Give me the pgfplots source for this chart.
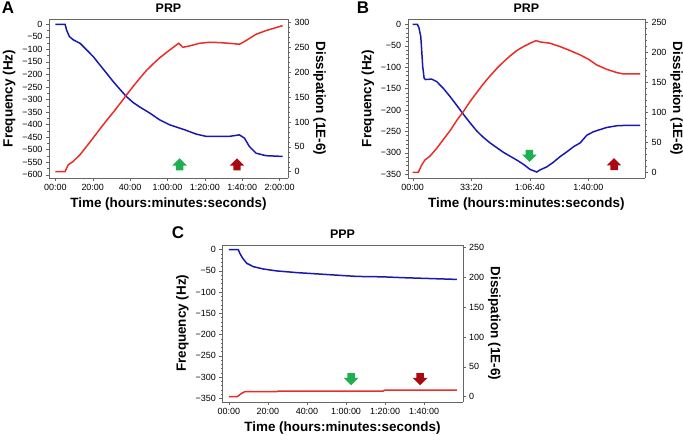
\documentclass[border=0pt]{standalone}
\usepackage{fontspec}
\setmainfont{Liberation Sans}
\usepackage{pgfplots}
\pgfplotsset{compat=1.18}
\usetikzlibrary{shapes.arrows}
\definecolor{fblue}{RGB}{25,25,175}
\definecolor{dred}{RGB}{235,45,40}
\definecolor{agreen}{RGB}{30,175,80}
\definecolor{ared}{RGB}{170,10,15}
\newcommand{\tk}{\fontsize{9}{10}\selectfont}
\newcommand{\lb}{\bfseries\fontsize{13.5}{15}\selectfont}
\pgfplotsset{
  qcm/.style={scale only axis, tick align=outside, major tick length=3bp, minor tick length=1.5bp,
    axis line style={black!60}, every tick/.style={black!60, line width=0.4pt},
    ticklabel style={font=\tk}, label style={font=\lb},
    title style={font=\bfseries\fontsize{12.5}{13}\selectfont, yshift=-3bp},
    /pgf/number format/assume math mode=true, xtick pos=left, minor x tick num=3},
  freq/.style={fblue, line width=1.5bp},
  diss/.style={dred, line width=1.5bp},
  rgt/.style={axis y line*=right, axis x line=none, ylabel style={rotate=180}, ylabel shift=-3bp,
    minor y tick num=4},
}
\tikzset{arr/.style={single arrow, draw=none, inner xsep=0pt, inner ysep=3.5bp, minimum height=12bp,
  single arrow head extend=3.5bp, single arrow head indent=0pt}}
\begin{document}
\begin{tikzpicture}
% ---------------- A ----------------
\begin{axis}[qcm, at={(49bp,257bp)}, anchor=south west, width=239bp, height=159bp,
  xmin=-3.4, xmax=124.5, ymin=-613, ymax=21, axis y line*=left,
  xtick={0,20,...,120}, xticklabels={00:00,20:00,40:00,1:00:00,1:20:00,1:40:00,2:00:00},
  ytick={-600,-550,...,0},
  yticklabels={−600,−550,−500,−450,−400,−350,−300,−250,−200,−150,−100,−50,0},
  minor y tick num=1,
  xlabel={Time (hours:minutes:seconds)}, ylabel={Frequency (Hz)}, title={PRP}]
\addplot[freq] coordinates {(0,0)(5.2,0)(6,-22.6)(7.5,-49)(9.6,-62)(13.2,-76)(16.7,-102)(20.3,-129)
  (23.8,-162)(27.4,-195)(30.9,-228)(34.5,-259)(38,-288)(41.6,-312)(45.2,-330)(50.5,-354)(55.8,-381)
  (61.2,-401)(66.5,-414)(70,-423)(75.4,-438)(80.7,-447)(86,-447)(93.2,-447)(98.5,-441)(101.2,-454)
  (103.8,-487)(107.4,-514)(112.7,-524)(121.6,-527)};
\node[arr, fill=agreen, rotate=90] at (axis cs:66.5,-566) {};
\node[arr, fill=ared, rotate=90] at (axis cs:97.2,-566) {};
\end{axis}
\begin{axis}[qcm, rgt, at={(49bp,257bp)}, anchor=south west, width=239bp, height=159bp,
  xmin=-3.4, xmax=124.5, ymin=-12.7, ymax=307.4, ytick={0,50,...,300},
  ylabel={Dissipation (1E-6)}]
\addplot[diss] coordinates {(0,0)(5.2,0)(6.9,14.1)(9.6,20.8)(13.2,34.2)(16.7,50.9)(20.3,68.3)(23.8,85.7)
  (27.4,103.1)(30.9,119.2)(34.5,136.6)(37.7,152.7)(41.6,171.5)(45.2,188.2)(48.7,203.6)(52.3,217)
  (55.8,229.1)(59.4,239.8)(62.9,249.8)(66,258.5)(68.3,250.5)(71.8,253.2)(77.2,258.5)(82.5,260.6)
  (87.8,259.9)(94.9,257.9)(98.5,256.5)(102,263.9)(107.4,276.6)(112.7,284)(121.6,294)};
\end{axis}
% ---------------- B ----------------
\begin{axis}[qcm, at={(407.7bp,257bp)}, anchor=south west, width=237.3bp, height=159bp,
  xmin=-2.85, xmax=132.2, ymin=-359, ymax=12.4, axis y line*=left,
  xtick={0,33.3333,66.6667,100}, xticklabels={00:00,33:20,1:06:40,1:40:00},
  ytick={-350,-300,...,0},
  yticklabels={−350,−300,−250,−200,−150,−100,−50,0},
  minor y tick num=4,
  xlabel={Time (hours:minutes:seconds)}, ylabel={Frequency (Hz)}, title={PRP}]
\addplot[freq] coordinates {(0,0)(2.7,0)(3.6,-9)(4.6,-29)(5.1,-60)(5.7,-99)(6.5,-126)(7.2,-129)
  (10.8,-128)(13.7,-134)(17.5,-150)(21.3,-169)(25,-189)(28.8,-210)(32.6,-230)(36.4,-249)(40.2,-264)
  (44,-277)(47.8,-288)(51.6,-299)(55.4,-308)(59.2,-317)(63,-327)(66.8,-339)(70.6,-345)(72.5,-340)
  (76.3,-333)(80.1,-322)(83.9,-309)(87.7,-298)(91.5,-286)(95.3,-277)(99.1,-259)(102.8,-251)
  (106.6,-246)(110.4,-241)(116.1,-237)(121.8,-236)(129.4,-236)};
\node[arr, fill=agreen, rotate=-90] at (axis cs:66.4,-303) {};
\node[arr, fill=ared, rotate=90] at (axis cs:114.6,-331) {};
\end{axis}
\begin{axis}[qcm, rgt, at={(407.7bp,257bp)}, anchor=south west, width=237.3bp, height=159bp,
  xmin=-2.85, xmax=132.2, ymin=-9.5, ymax=256, ytick={0,50,...,250},
  ylabel={Dissipation (1E-6)}]
\addplot[diss] coordinates {(0,0)(3.2,0)(5.1,12.2)(7,20.6)(9.9,27.3)(13.7,40.1)(17.5,55.1)(21.3,69.6)
  (25,86.3)(28.8,101.3)(32.6,118)(36.4,133.1)(40.2,147.6)(44,160.9)(47.8,173.2)(51.6,184.3)
  (55.4,194.3)(59.2,203.2)(63,209.9)(66.8,215.5)(70.2,219.9)(72.5,217.7)(78.2,215.5)(83.9,209.9)
  (89.6,203.2)(95.3,196)(100,188.8)(104.7,179.3)(110.4,172)(116.1,166.5)(119.9,164.3)(129.4,164.3)};
\end{axis}
% ---------------- C ----------------
\begin{axis}[qcm, at={(222.3bp,33.3bp)}, anchor=south west, width=240.4bp, height=156.7bp,
  xmin=-3.4, xmax=119.8, ymin=-358, ymax=11, axis y line*=left,
  xtick={0,20,...,100}, xticklabels={00:00,20:00,40:00,1:00:00,1:20:00,1:40:00},
  ytick={-350,-300,...,0},
  yticklabels={−350,−300,−250,−200,−150,−100,−50,0},
  minor y tick num=4,
  xlabel={Time (hours:minutes:seconds)}, ylabel={Frequency (Hz)}, title={PPP}]
\addplot[freq] coordinates {(0,0)(4.8,0)(5.6,-8.6)(7,-20)(9.1,-32)(12.5,-40)(17.6,-45.5)(24.4,-50)
  (34.7,-54)(45,-57)(55.2,-60)(65.5,-63)(79,-64)(89.4,-66)(99.7,-67.5)(109.9,-69)(116.8,-70)};
\node[arr, fill=agreen, rotate=-90] at (axis cs:62.6,-300.6) {};
\node[arr, fill=ared, rotate=-90] at (axis cs:98,-300.6) {};
\end{axis}
\begin{axis}[qcm, rgt, at={(222.3bp,33.3bp)}, anchor=south west, width=240.4bp, height=156.7bp,
  xmin=-3.4, xmax=119.8, ymin=-8.4, ymax=254.5, ytick={0,50,...,250},
  ylabel={Dissipation (1E-6)}]
\addplot[diss] coordinates {(0,0)(4.3,0)(6.5,5.6)(8.2,8.4)(24.4,8.4)(25.3,9.5)(79,9.5)(80,11.2)(116.8,11.2)};
\end{axis}
% panel letters
\node[font=\bfseries\fontsize{17}{17}\selectfont] at (8bp,427bp) {A};
\node[font=\bfseries\fontsize{17}{17}\selectfont] at (363bp,427bp) {B};
\node[font=\bfseries\fontsize{17}{17}\selectfont] at (178bp,202.5bp) {C};
\pgfresetboundingbox
\path[use as bounding box] (0,0) rectangle (683bp,435bp);
\end{tikzpicture}
\end{document}
